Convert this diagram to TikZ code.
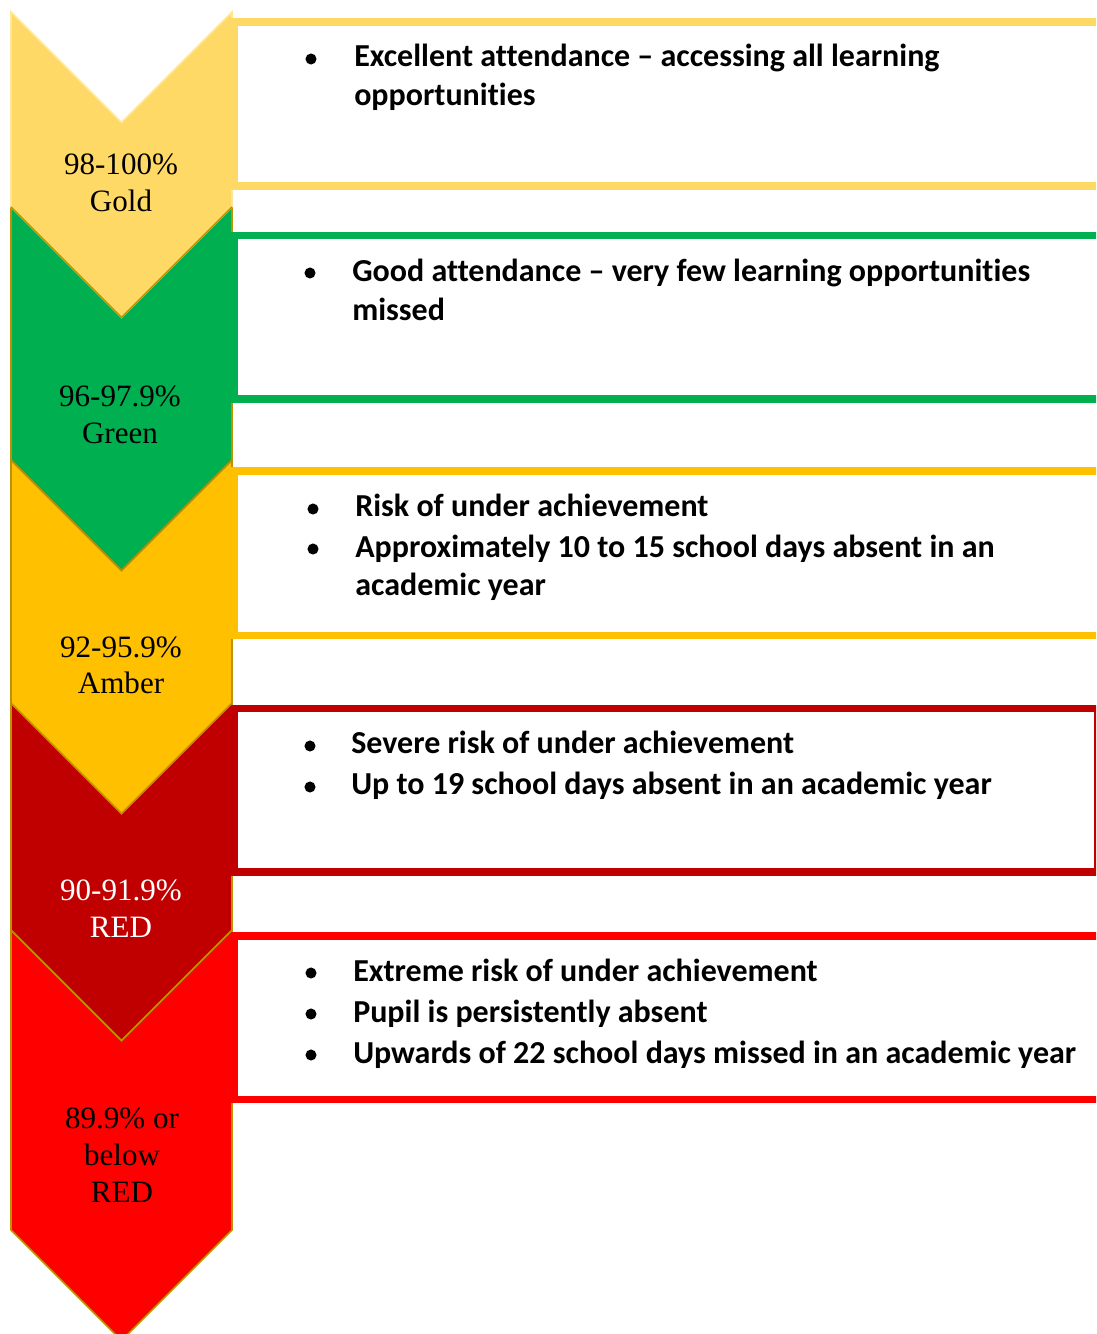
\documentclass[tikz,border=0pt]{standalone}
\usepackage{fontspec}
\setmainfont{Liberation Serif}
\newfontfamily\bodyfont[Ligatures=NoCommon]{Carlito}
\definecolor{goldc}{HTML}{FFD966}
\definecolor{goldedge}{HTML}{FFE699}
\definecolor{greenc}{HTML}{00B050}
\definecolor{amberc}{HTML}{FFC000}
\definecolor{dredc}{HTML}{C00000}
\definecolor{redc}{HTML}{FF0000}
\definecolor{edgec}{HTML}{BF9000}
\tikzset{
  chev/.style={draw=edgec, line width=1.2pt, line join=miter},
  boxline/.style={line width=5.4pt, line join=miter},
  lab/.style={anchor=base, inner sep=0pt, font=\fontsize{23.3}{28}\selectfont},
  txt/.style={anchor=base west, inner sep=0pt, font=\bodyfont\bfseries\fontsize{24}{29}\selectfont},
  bul/.style={circle, fill=black, inner sep=0pt, minimum size=8.3pt}
}
\begin{document}
\begin{tikzpicture}[x=0.75pt,y=-0.75pt]
\useasboundingbox (0,0) rectangle (1096,1334);
\clip (0,0) rectangle (1096,1334);
% chevrons, bottom first
\path[chev, fill=redc] (11,930) -- (121.5,1040.5) -- (232,930) -- (232,1230) -- (121.5,1340.5) -- (11,1230) -- cycle;
\path[chev, fill=dredc] (11,703) -- (121.5,813.5) -- (232,703) -- (232,930) -- (121.5,1040.5) -- (11,930) -- cycle;
\path[chev, fill=amberc] (11,460) -- (121.5,570.5) -- (232,460) -- (232,703) -- (121.5,813.5) -- (11,703) -- cycle;
\path[chev, fill=greenc] (11,207) -- (121.5,317.5) -- (232,207) -- (232,460) -- (121.5,570.5) -- (11,460) -- cycle;
\path[chev, draw=goldedge, fill=goldc] (11,12) -- (121.5,122.5) -- (232,12) -- (232,207) -- (121.5,317.5) -- (11,207) -- cycle;
\draw[chev] (11,207) -- (121.5,317.5) -- (232,207);
% boxes
\draw[boxline, draw=goldc] (1110,22) -- (234.5,22) -- (234.5,186) -- (1110,186);
\draw[boxline, draw=greenc] (1110,235.5) -- (234.5,235.5) -- (234.5,399) -- (1110,399);
\draw[boxline, draw=amberc] (1110,471) -- (234.5,471) -- (234.5,635.5) -- (1110,635.5);
\draw[boxline, draw=dredc] (234.5,708.5) rectangle (1097.5,872);
\draw[boxline, draw=redc] (1110,936) -- (234.5,936) -- (234.5,1099.5) -- (1110,1099.5);
% chevron labels
\node[lab] (g1) at (121,175) {98-100\%};
\node[lab] (g2) at (121,211) {Gold};
\node[lab] (n1) at (120,406) {96-97.9\%};
\node[lab] (n2) at (120,443) {Green};
\node[lab] (a1) at (121,657) {92-95.9\%};
\node[lab] (a2) at (121,693.5) {Amber};
\node[lab, text=white] (d1) at (121,900) {90-91.9\%};
\node[lab, text=white] (d2) at (121,937) {RED};
\node[lab] (r1) at (122,1128) {89.9\% or};
\node[lab] (r2) at (122,1165) {below};
\node[lab] (r3) at (122,1202) {RED};
% box texts
\node[bul] (b11) at (311,59) {};
\node[txt] (t11) at (354,67) {Excellent attendance – accessing all learning};
\node[txt] (t12) at (354,106) {opportunities};
\node[bul] (b21) at (310,273) {};
\node[txt] (t21) at (352,281) {Good attendance – very few learning opportunities};
\node[txt] (t22) at (352,320) {missed};
\node[bul] (b31) at (313,509) {};
\node[txt] (t31) at (355,516.5) {Risk of under achievement};
\node[bul] (b32) at (313,549) {};
\node[txt] (t32) at (355,557) {Approximately 10 to 15 school days absent in an};
\node[txt] (t33) at (355,595.5) {academic year};
\node[bul] (b41) at (310,746) {};
\node[txt] (t41) at (351,753.5) {Severe risk of under achievement};
\node[bul] (b42) at (310,787) {};
\node[txt] (t42) at (351,794.5) {Up to 19 school days absent in an academic year};
\node[bul] (b51) at (311,973) {};
\node[txt] (t51) at (353,981) {Extreme risk of under achievement};
\node[bul] (b52) at (311,1014) {};
\node[txt] (t52) at (353,1022) {Pupil is persistently absent};
\node[bul] (b53) at (311,1055) {};
\node[txt] (t53) at (353,1063) {Upwards of 22 school days missed in an academic year};
\end{tikzpicture}
\end{document}
